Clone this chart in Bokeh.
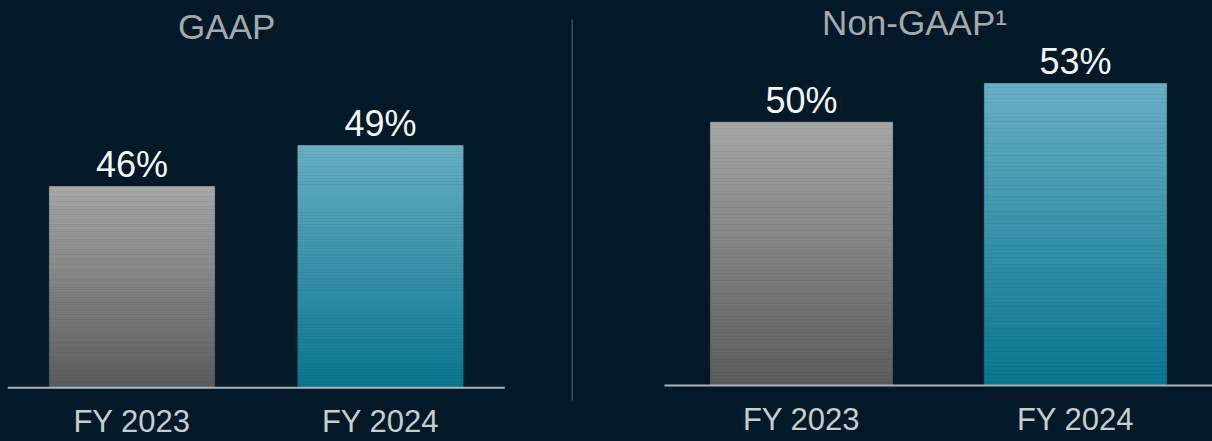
import numpy as np
from bokeh.plotting import figure
from bokeh.layouts import row
from bokeh.models import Range1d, GlobalInlineStyleSheet
from bokeh.core.properties import value
from bokeh.embed import file_html
from bokeh.resources import INLINE

# ---- data ----
categories = ["FY 2023", "FY 2024"]
gaap_values = [46, 49]
non_gaap_values = [50, 53]
panel_titles = ["GAAP", "Non-GAAP\u00b9"]

# ---- style ----
BG = "#041927"
FONT = "Liberation Sans"
BAR_COLORS = [("#a7a7a7", "#5c5c5c"), ("#68afc4", "#09768f")]  # (top, bottom)
TITLE_COLOR = "#a3a9ad"
VALUE_COLOR = "#f3f5f6"
CAT_COLOR = "#c6cdd1"
BASE_COLOR = "#a9b3b8"
DIVIDER_COLOR = "#3a4b57"
HEIGHT = 441


def hex_rgb(h):
    h = h.lstrip("#")
    return np.array([int(h[i:i + 2], 16) for i in (0, 2, 4)], dtype=float)


def blend(c_bottom, c_top, t):
    c = hex_rgb(c_bottom) * (1 - t) + hex_rgb(c_top) * t
    return "#%02x%02x%02x" % tuple(int(round(v)) for v in c)


def make_panel(title, vals, width, xr, yr, base, title_dx, title_dy):
    p = figure(width=width, height=HEIGHT, x_range=Range1d(*xr), y_range=Range1d(*yr),
               output_backend="svg", toolbar_location=None, min_border=0,
               background_fill_color=BG, border_fill_color=BG, outline_line_color=None)
    p.axis.visible = False
    p.grid.visible = False
    xs = list(range(len(categories)))
    n = 80
    for i, (x, v) in enumerate(zip(xs, vals)):
        top_c, bot_c = BAR_COLORS[i]
        edges = np.linspace(base, v, n + 1)
        cols = [blend(bot_c, top_c, (k + 0.5) / n) for k in range(n)]
        p.vbar(x=[x] * n, width=0.665, bottom=edges[:-1], top=edges[1:],
               fill_color=cols, line_color=cols, line_width=0.6)
    # baseline
    p.segment(x0=[-0.5], y0=[base], x1=[len(xs) - 0.5], y1=[base],
              line_color=BASE_COLOR, line_width=2)
    # value labels
    p.text(x=xs, y=vals, text=[f"{v}%" for v in vals], text_align="center",
           text_baseline="middle", y_offset=-22, text_font=value(FONT),
           text_font_size="36px", text_color=VALUE_COLOR)
    # category labels
    p.text(x=xs, y=[base] * len(xs), text=categories, text_align="center",
           text_baseline="middle", y_offset=33.5, text_font=value(FONT),
           text_font_size="31px", text_color=CAT_COLOR)
    # title
    p.text(x=[float(np.mean(xs))], y=[yr[1]], text=[title], text_align="center",
           text_baseline="middle", x_offset=title_dx, y_offset=title_dy,
           text_font=value(FONT), text_font_size="35px", text_color=TITLE_COLOR)
    return p


left = make_panel(panel_titles[0], gaap_values, 570, (-0.5292, 1.7646), (27.34, 59.61),
                  31.27, -29.5, 26)
right = make_panel(panel_titles[1], non_gaap_values, 642, (-0.8431, 1.5), (25.25, 59.43),
                   29.59, -24, 21.5)
# panel divider
right.segment(x0=[-0.8369], y0=[28.43], x1=[-0.8369], y1=[57.96],
              line_color=DIVIDER_COLOR, line_width=1.5)

layout = row(left, right, spacing=0,
             stylesheets=[GlobalInlineStyleSheet(css="html, body { background-color: #041927; }")])

open("out.html", "w").write(file_html(layout, INLINE))
